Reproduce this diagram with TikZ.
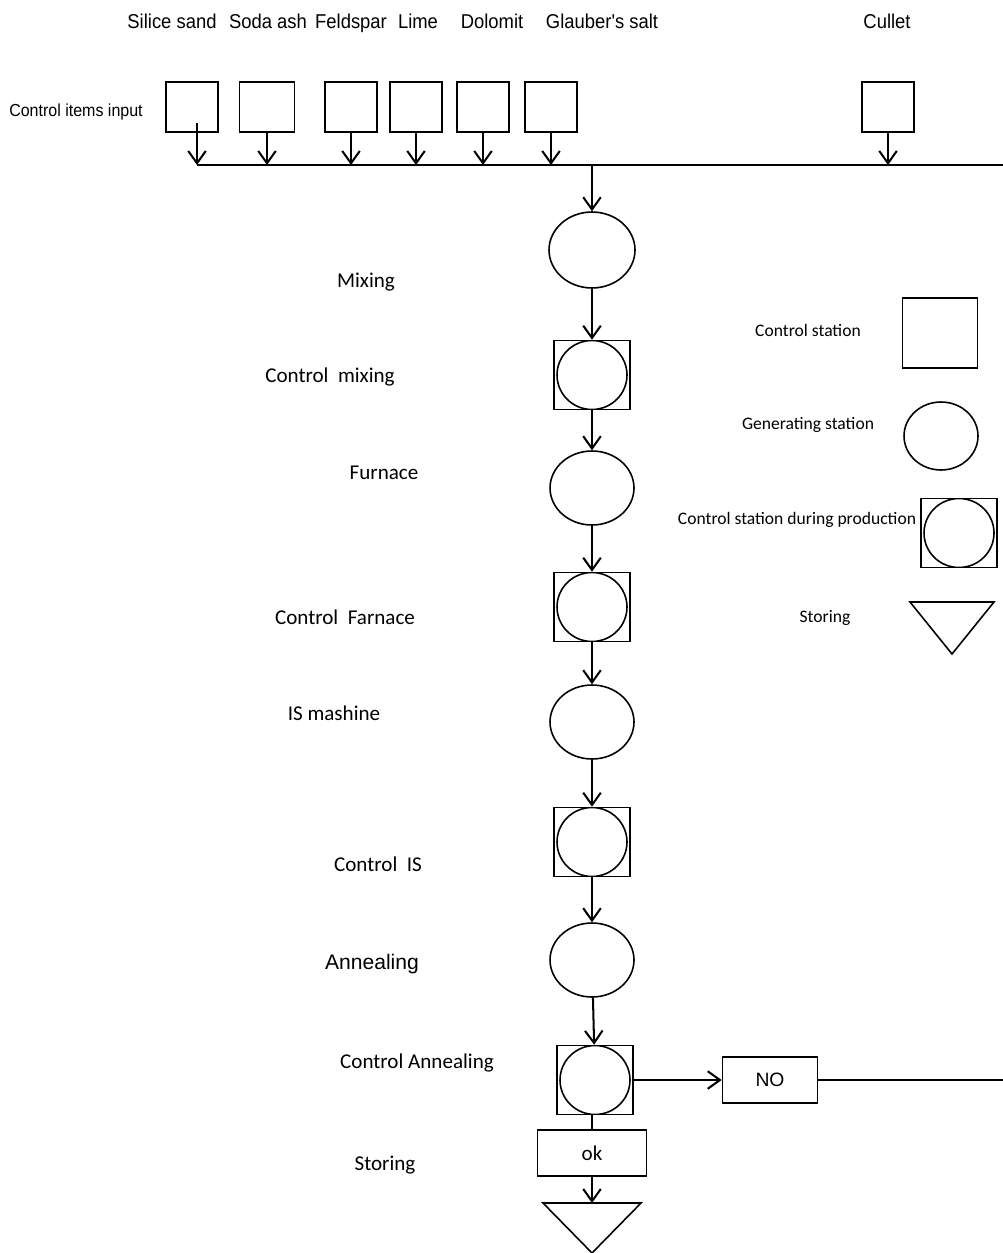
\documentclass[tikz,border=0pt]{standalone}
\usepackage{fontspec}
\setmainfont{Carlito}
\newfontfamily\arialfont{Liberation Sans}
\newfontfamily\arialnarrow[FakeStretch=0.92]{Liberation Sans}
\usetikzlibrary{
arrows.meta,
shapes.geometric
}

\begin{document}
\begin{tikzpicture}[
      x=0.02cm, y=-0.02cm,
      arrow/.style={
        -{Straight Barb[length=7pt,width=10pt]},
        line width=1.15pt
      },
      wire/.style={
        line width=1.15pt
      },
      ctrlbox/.style={
        draw, line width=0.9pt, rectangle, inner sep=0pt,
        minimum width=10.4mm, minimum height=10mm
      },
      genstation/.style={
        draw, line width=0.9pt, ellipse, inner sep=0pt,
        minimum width=16.8mm, minimum height=14.8mm
      },
      prodstation/.style={
        draw, line width=0.9pt, rectangle, inner sep=0pt,
        minimum width=15.2mm, minimum height=13.8mm,
        path picture={\draw[line width=0.9pt] (path picture bounding box.center) ellipse (7mm and 6.9mm);}
      },
      storing/.style={
        line width=0.9pt
      },
      flagbox/.style={
        draw, line width=0.9pt, rectangle, inner sep=0pt,
        minimum height=9.3mm
      },
      tag/.style={
        font=\fontsize{12}{14}\selectfont
      },
      legend/.style={
        font=\fontsize{10}{12}\selectfont
      },
      item/.style={
        anchor=base, font=\arialnarrow\fontsize{11.4}{13}\selectfont
      }
    ]
    \useasboundingbox (0,0) rectangle (1003,1253);

    % raw materials
    \node[item] (tsand) at(172,29) {Silice sand};
    \node[item] (tsoda) at(268,29) {Soda ash};
    \node[item] (tfeld) at(351,29) {Feldspar};
    \node[item] (tlime) at(418,29) {Lime};
    \node[item] (tdolo) at(492,29) {Dolomit};
    \node[item] (tglau) at(602,29) {Glauber's salt};
    \node[item] (tcull) at(887,29) {Cullet};
    \node[item,font=\arialnarrow\fontsize{9.9}{11}\selectfont] (tinput) at(76,117) {Control items input};

    \node[ctrlbox] (sand) at(192,107) {};
    \node[ctrlbox,minimum width=11mm] (soda) at(267,107) {};
    \node[ctrlbox] (feld) at(351,107) {};
    \node[ctrlbox] (lime) at(416,107) {};
    \node[ctrlbox] (dolo) at(483,107) {};
    \node[ctrlbox] (glau) at(551,107) {};
    \node[ctrlbox] (cull) at(888,107) {};

    % collecting line
    \coordinate (busl) at(197,165);
    \coordinate (busr) at(1003,165);
    \coordinate (bustap) at(592,165);
    \coordinate (sandout) at(197,123);
    \draw[wire] (busl) -- (busr);
    \draw[arrow] (sandout) -- (sandout |- busl);
    \draw[arrow] (soda.south) -- (soda.south |- busl);
    \draw[arrow] (feld.south) -- (feld.south |- busl);
    \draw[arrow] (lime.south) -- (lime.south |- busl);
    \draw[arrow] (dolo.south) -- (dolo.south |- busl);
    \draw[arrow] (glau.south) -- (glau.south |- busl);
    \draw[arrow] (cull.south) -- (cull.south |- busl);

    % production line
    \node[genstation,minimum width=17.2mm,minimum height=15.2mm] (mix) at(592,250) {};
    \node[prodstation] (cmix) at(592,375) {};
    \node[genstation] (furn) at(592,488) {};
    \node[prodstation] (cfurn) at(592,607) {};
    \node[genstation] (ism) at(592,722) {};
    \node[prodstation] (cis) at(592,842) {};
    \node[genstation] (ann) at(592,960) {};
    \node[prodstation] (cann) at(595,1080) {};
    \node[flagbox,minimum width=21.8mm,font=\fontsize{12}{14}\selectfont] (ok) at(592,1153) {ok};
    \node[flagbox,minimum width=19mm,font=\arialfont\fontsize{11}{13}\selectfont] (no) at(770,1080) {NO};
    \coordinate (store) at(592,1203);
    \coordinate (noend) at(1003,1080);
    \draw[storing] (store) ++(-49,0) -- ++(98,0) -- ++(-49,50) -- cycle;

    \draw[arrow] (bustap) -- (mix.north);
    \draw[arrow] (mix) -- (cmix);
    \draw[arrow] (cmix) -- (furn);
    \draw[arrow] (furn) -- (cfurn);
    \draw[arrow] (cfurn) -- (ism);
    \draw[arrow] (ism) -- (cis);
    \draw[arrow] (cis) -- (ann);
    \draw[arrow] (ann) -- (cann);
    \draw[arrow] (cann) -- (no);
    \draw[wire] (no) -- (noend);
    \draw[wire] (cann.south -| ok) -- (ok.north);
    \draw[arrow] (ok) -- (store);

    % stage names
    \node[tag] (lmix) at(366,282) {Mixing};
    \node[tag] (lcmix) at(330,377) {Control~ mixing};
    \node[tag] (lfurn) at(384,473) {Furnace};
    \node[tag] (lcfurn) at(345,617) {Control~ Farnace};
    \node[tag] (lism) at(334,713) {IS mashine};
    \node[tag] (lcis) at(378,864) {Control~ IS};
    \node[tag,font=\arialfont\fontsize{12}{14}\selectfont] (lann) at(372,964) {Annealing};
    \node[tag] (lcann) at(417,1063) {Control Annealing};
    \node[tag] (lstore) at(385,1165) {Storing};

    % legend
    \node[legend] (kctrl) at(808,330) {Control station};
    \node[draw,line width=0.9pt,inner sep=0pt,minimum width=15mm,minimum height=14mm] (kbox) at(940,333) {};
    \node[legend] (kgen) at(808,425) {Generating station};
    \node[genstation,minimum width=14.8mm,minimum height=13.6mm] (kell) at(941,436) {};
    \node[legend] (kprod) at(797,520) {Control station during production};
    \node[prodstation] (kboth) at(959,533) {};
    \node[legend] (kstore) at(825,618) {Storing};
    \coordinate (ktri) at(952,602);
    \draw[storing] (ktri) ++(-42,0) -- ++(84,0) -- ++(-42,52) -- cycle;

  \end{tikzpicture}
\end{document}
